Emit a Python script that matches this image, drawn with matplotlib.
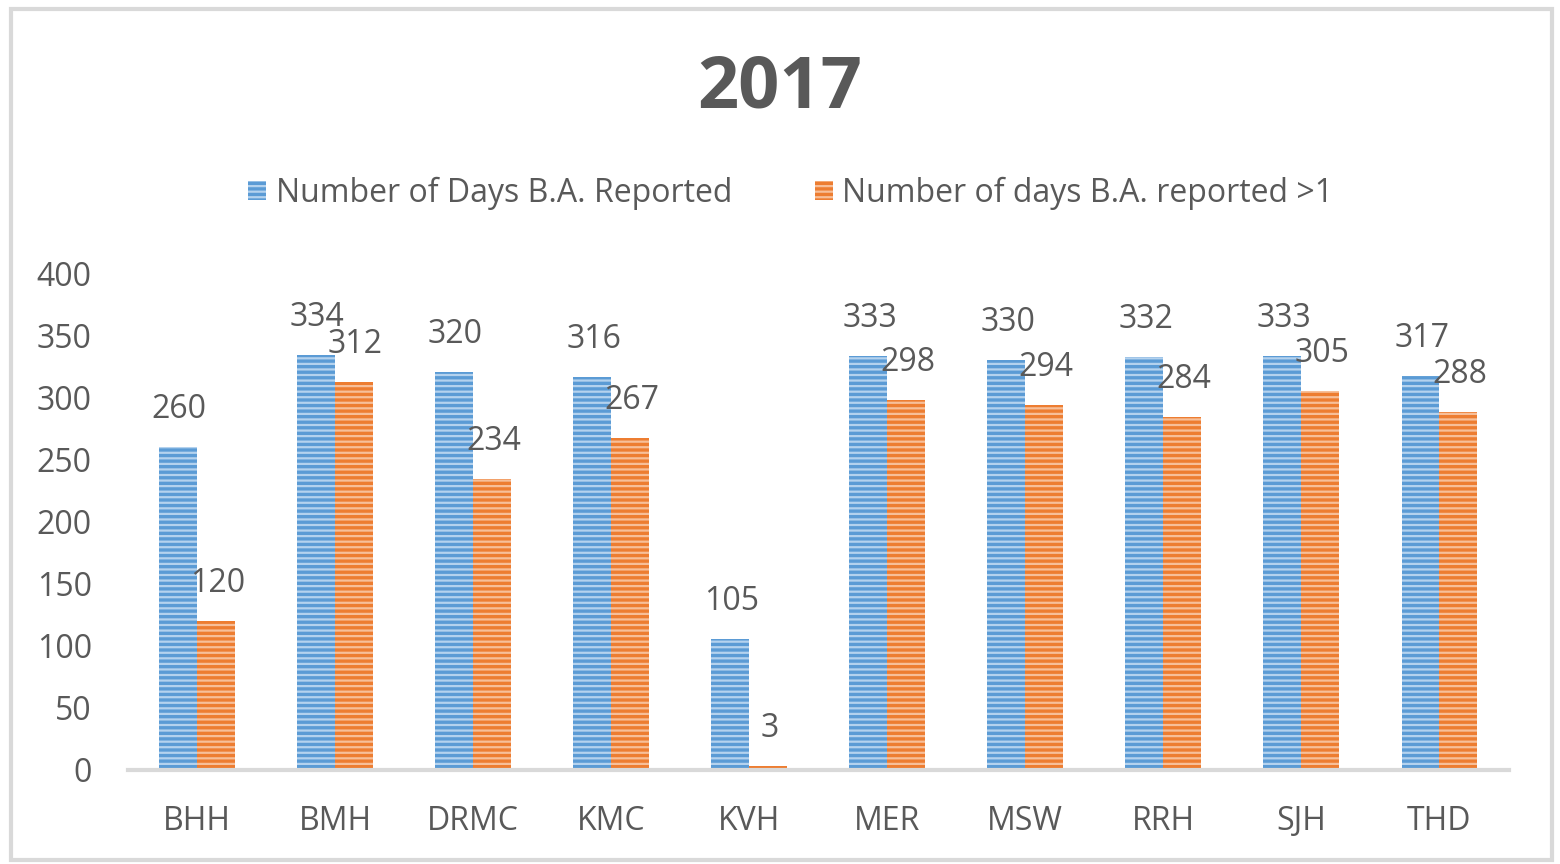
import numpy as np
from matplotlib import pyplot as plt
from matplotlib.patches import Rectangle

# data
hospitals = ['BHH', 'BMH', 'DRMC', 'KMC', 'KVH', 'MER', 'MSW', 'RRH', 'SJH', 'THD']
days_reported = [260, 334, 320, 316, 105, 333, 330, 332, 333, 317]
days_reported_gt1 = [120, 312, 234, 267, 3, 298, 294, 284, 305, 288]
series_names = ['Number of Days B.A. Reported', 'Number of days B.A. reported >1']
yticks = [0, 50, 100, 150, 200, 250, 300, 350, 400]

plt.rcParams['font.family'] = ['Open Sans', 'DejaVu Sans']
plt.rcParams['hatch.linewidth'] = 1.6
grey = '#595959'
fs = 23

fig = plt.figure(figsize=(15.6, 8.64), dpi=100)
fig.patches.append(Rectangle((0.007, 0.005), 0.988, 0.985, transform=fig.transFigure,
                             fill=False, edgecolor='#d9d9d9', linewidth=3))
ax = fig.add_axes([0.082, 0.109, 0.885, 0.575])

x = np.arange(len(hospitals))
w = 0.275
b1 = ax.bar(x - w / 2, days_reported, w, color='#5b9bd5', edgecolor='#b4d2ee',
            linewidth=0, hatch='---', label=series_names[0])
b2 = ax.bar(x + w / 2, days_reported_gt1, w, color='#ed7d31', edgecolor='#f7bf99',
            linewidth=0, hatch='---', label=series_names[1])

for bars, vals in [(b1, days_reported), (b2, days_reported_gt1)]:
    for r, v in zip(bars, vals):
        ax.annotate(str(v), (r.get_x() + r.get_width() / 2, v), xytext=(1, 27),
                    textcoords='offset points', ha='center', va='center',
                    fontsize=fs, color=grey)

ax.set_xlim(-0.5, len(hospitals) - 0.5)
ax.set_ylim(0, 400)
ax.set_yticks(yticks)
ax.set_xticks(x)
ax.set_xticklabels(hospitals)
ax.tick_params(axis='both', length=0, labelsize=fs, colors=grey)
ax.tick_params(axis='y', pad=26)
ax.tick_params(axis='x', pad=25)
for s in ['top', 'right', 'left']:
    ax.spines[s].set_visible(False)
ax.spines['bottom'].set_color('#d9d9d9')
ax.spines['bottom'].set_linewidth(3)

fig.text(0.5, 0.898, '2017', ha='center', va='center', fontsize=52,
         fontweight='bold', color=grey)
fig.legend(handles=[b1, b2], loc='center', bbox_to_anchor=(0.507, 0.776), ncol=2,
           frameon=False, fontsize=fs, labelcolor=grey, handlelength=0.55,
           handleheight=0.55, handletextpad=0.3, columnspacing=2.6)

fig.savefig('out.png', dpi=100)
